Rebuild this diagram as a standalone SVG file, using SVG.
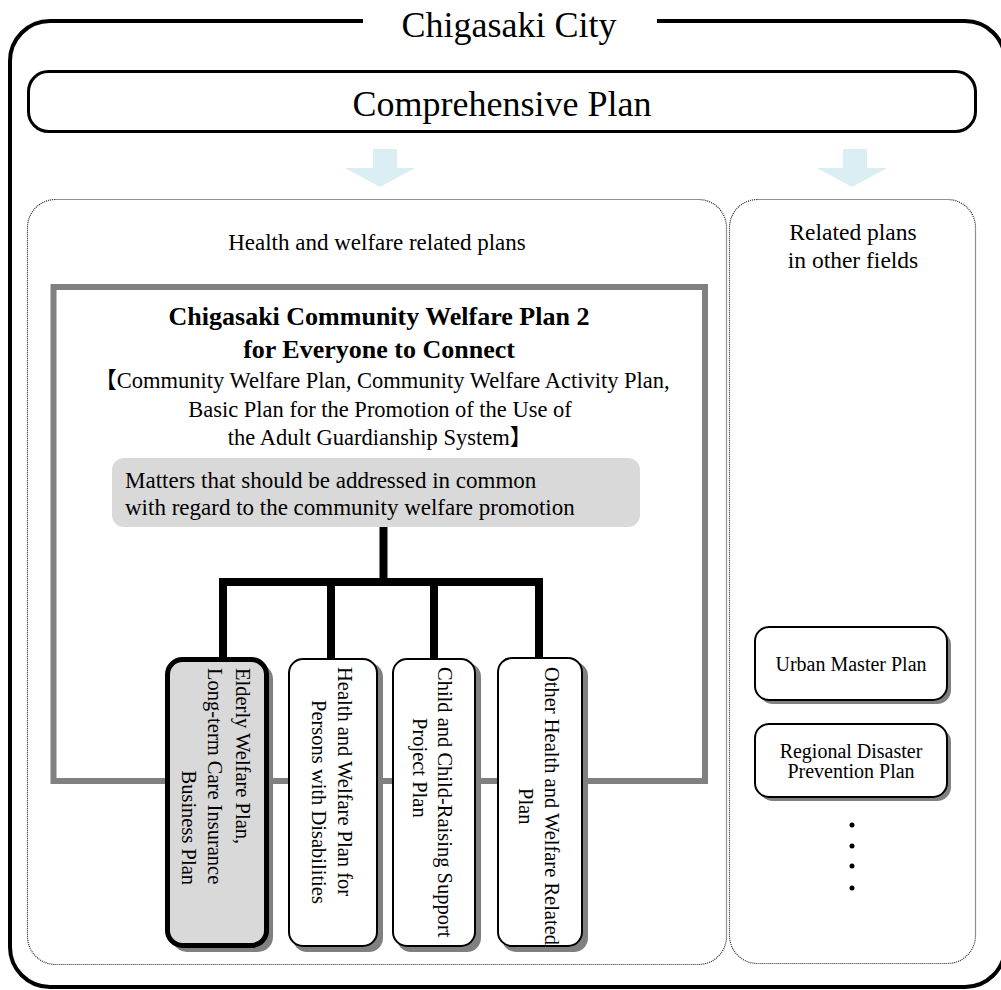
<svg xmlns="http://www.w3.org/2000/svg" width="1001" height="990" viewBox="0 0 1001 990">
<style>
text{font-family:"Liberation Serif","Noto Sans CJK JP",serif;fill:#000}
.dot{fill:none;stroke:#222;stroke-width:1.2;stroke-dasharray:1 1}
.arrow{fill:#DAEEF3}
.box{fill:#fff;stroke:#000;stroke-width:2}
.shadow{fill:#808080}
.v{font-size:20.5px}
.r{font-size:20px;text-anchor:middle}
</style>
<rect width="1001" height="990" fill="#fff"/>
<g id="city-frame">
<path d="M363 21 H50 A40 40 0 0 0 10 61 V947 A40 40 0 0 0 50 987 H965 A40 40 0 0 0 1005 947 V61 A40 40 0 0 0 965 21 H657" fill="none" stroke="#000" stroke-width="4"/>
<text x="509" y="37" font-size="36" text-anchor="middle">Chigasaki City</text>
</g>
<g id="comprehensive-plan">
<rect x="28.5" y="71.5" width="947" height="60" rx="20" fill="#fff" stroke="#000" stroke-width="3"/>
<text x="502" y="116" font-size="36" text-anchor="middle">Comprehensive Plan</text>
</g>
<g id="arrows">
<polygon class="arrow" points="373,149 397,149 397,168 415,168 380,187 345,168 373,168"/>
<polygon class="arrow" points="843,149 867,149 867,168 887,168 852,187 817,168 843,168"/>
</g>
<g id="health-welfare-area">
<rect class="dot" x="27.5" y="199.5" width="699" height="765" rx="28"/>
<text x="377" y="250" font-size="23" text-anchor="middle">Health and welfare related plans</text>
</g>
<g id="other-fields-area">
<rect class="dot" x="729.5" y="199.5" width="246" height="764" rx="28"/>
<text x="853" y="240" font-size="23.5" text-anchor="middle">Related plans</text>
<text x="853" y="268" font-size="23.5" text-anchor="middle">in other fields</text>
</g>
<g id="community-welfare-plan">
<rect x="53.5" y="287" width="651.5" height="494" fill="none" stroke="#808080" stroke-width="6"/>
<text x="379" y="325" font-size="26" font-weight="bold" text-anchor="middle">Chigasaki Community Welfare Plan 2</text>
<text x="379" y="358" font-size="26" font-weight="bold" text-anchor="middle">for Everyone to Connect</text>
<text x="382" y="388" font-size="22.5" text-anchor="middle">【Community Welfare Plan, Community Welfare Activity Plan,</text>
<text x="380" y="417" font-size="22.5" text-anchor="middle">Basic Plan for the Promotion of the Use of</text>
<text x="380" y="445" font-size="22.5" text-anchor="middle">the Adult Guardianship System】</text>
</g>
<g id="common-matters">
<rect x="112" y="458" width="528" height="69" rx="12" fill="#d9d9d9"/>
<text x="125" y="488" font-size="23">Matters that should be addressed in common</text>
<text x="125" y="515" font-size="23">with regard to the community welfare promotion</text>
</g>
<g id="connectors" fill="none" stroke="#000" stroke-width="8">
<path d="M383.5 527 V582"/>
<path d="M223 662 V582 H539 V662" stroke-linejoin="miter"/>
<path d="M331 582 V662"/>
<path d="M434 582 V662"/>
</g>
<g id="elderly-plan">
<rect class="shadow" x="172" y="664" width="101" height="288" rx="15"/>
<rect x="167.5" y="659.5" width="99" height="286" rx="15" fill="#d9d9d9" stroke="#000" stroke-width="5"/>
<text class="v" transform="translate(236,668) rotate(90)">Elderly Welfare Plan,</text>
<text class="v" transform="translate(208,668) rotate(90)">Long-term Care Insurance</text>
<text class="v" transform="translate(182,885) rotate(90)" text-anchor="end">Business Plan</text>
</g>
<g id="disabilities-plan">
<rect class="shadow" x="293" y="663" width="90" height="289" rx="14"/>
<rect class="box" x="289" y="659" width="88" height="287" rx="14"/>
<text class="v" transform="translate(338,667) rotate(90)">Health and Welfare Plan for</text>
<text class="v" transform="translate(312,700) rotate(90)">Persons with Disabilities</text>
</g>
<g id="child-plan">
<rect class="shadow" x="397" y="663" width="84" height="289" rx="14"/>
<rect class="box" x="393" y="659" width="82" height="287" rx="14"/>
<text class="v" transform="translate(438,667) rotate(90)">Child and Child-Raising Support</text>
<text class="v" transform="translate(413,718) rotate(90)">Project Plan</text>
</g>
<g id="other-plan">
<rect class="shadow" x="502" y="662" width="86" height="290" rx="14"/>
<rect class="box" x="498" y="658" width="84" height="288" rx="14"/>
<text class="v" transform="translate(545,667) rotate(90)">Other Health and Welfare Related</text>
<text class="v" transform="translate(519,788) rotate(90)">Plan</text>
</g>
<g id="urban-master-plan">
<rect class="shadow" x="759" y="631" width="192" height="73" rx="14"/>
<rect class="box" x="755" y="627" width="192" height="73" rx="14"/>
<text class="r" x="851" y="671">Urban Master Plan</text>
</g>
<g id="disaster-plan">
<rect class="shadow" x="759" y="728" width="192" height="73" rx="14"/>
<rect class="box" x="755" y="724" width="192" height="73" rx="14"/>
<text class="r" x="851" y="758">Regional Disaster</text>
<text class="r" x="851" y="778">Prevention Plan</text>
</g>
<g id="ellipsis" fill="#000">
<circle cx="852" cy="825" r="2.5"/>
<circle cx="852" cy="846" r="2.5"/>
<circle cx="852" cy="866" r="2.5"/>
<circle cx="852" cy="888" r="2.5"/>
</g>
</svg>
